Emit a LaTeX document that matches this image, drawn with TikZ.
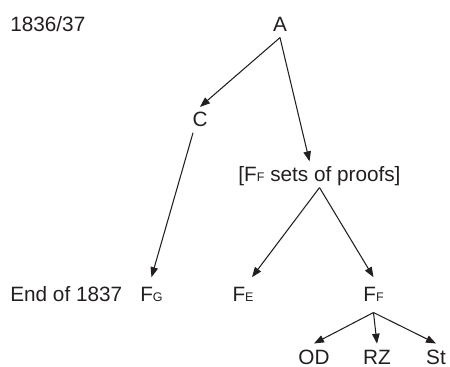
\documentclass[tikz,border=0pt]{standalone}
\usepackage{fontspec}
\setmainfont{Liberation Sans}
\usepackage{tikz}
\usetikzlibrary{calc,arrows.meta}
\definecolor{fundo}{HTML}{FFFFFF}
\definecolor{tinta}{HTML}{231F20}
\newcommand{\sub}[1]{{\fontsize{7.1}{8}\selectfont #1}}
\begin{document}
\begin{tikzpicture}[x=1cm,y=1cm, nm/.style={font=\fontsize{11.8}{14}\selectfont, text=tinta, anchor=base, inner sep=3pt},
  lin/.style={nm, outer sep=3pt}, ano/.style={nm, anchor=base west, inner sep=0pt},
  fol/.style={nm, inner sep=0.5pt, outer sep=3.5pt},
  ar/.style={-{Triangle[length=2mm,width=1.5mm]}, line width=0.6pt, draw=tinta}]
  \useasboundingbox[fill=fundo] (0,0) rectangle (9,-7.34);
  \node[ano] (d1) at (0.2,-0.64) {1836/37};
  \node[ano] (d2) at (0.2,-6.04) {End of 1837};
  \node[nm] (a) at (5.6,-0.64) {A};
  \node[nm] (c) at (4.0,-2.54) {C};
  \node[nm, text depth=0pt] (br) at (6.39,-3.64) {[F\sub{F} sets of proofs]};
  \node[lin] (fg) at (3.03,-6.04) {F\sub{G}};
  \node[lin] (fe) at (4.86,-6.04) {F\sub{E}};
  \node[lin] (ff) at (7.47,-6.04) {F\sub{F}};
  \node[fol] (od) at (6.28,-7.30) {OD};
  \node[fol] (rz) at (7.54,-7.30) {RZ};
  \node[fol] (st) at (8.72,-7.30) {St};
  \draw[ar] (a.south) -- (c.north);
  \draw[ar] (a.south) -- ($(br.north)+(-0.2,0)$);
  \draw[ar] ($(c.south)+(-0.14,0)$) -- (fg.north);
  \draw[ar] (br.south) -- ($(fe.north)+(0.18,0)$);
  \draw[ar] (br.south) -- (ff.north);
  \foreach \f in {od,rz,st}{\draw[ar] (ff.south) -- (\f.north);}
\end{tikzpicture}
\end{document}
